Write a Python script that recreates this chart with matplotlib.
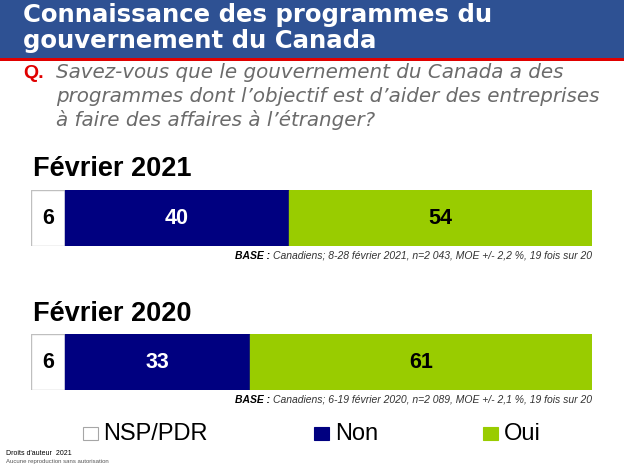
import matplotlib
matplotlib.use("Agg")
import matplotlib.pyplot as plt
from matplotlib.patches import Rectangle

# Data
periods = ["Février 2021", "Février 2020"]
categories = ["NSP/PDR", "Non", "Oui"]
nsp = [6, 6]
non = [40, 33]
oui = [54, 61]
bases = [
    "Canadiens; 8-28 février 2021, n=2 043, MOE +/- 2,2 %, 19 fois sur 20",
    "Canadiens; 6-19 février 2020, n=2 089, MOE +/- 2,1 %, 19 fois sur 20",
]
colors = ["#FFFFFF", "#000080", "#99CC00"]
text_colors = ["#000000", "#FFFFFF", "#000000"]

W, H = 624, 468
fig = plt.figure(figsize=(W / 100, H / 100), dpi=100)
fig.patch.set_facecolor("white")

def fx(x):
    return x / W

def fy(y):
    return 1 - y / H

# Header band
fig.patches.append(Rectangle((0, fy(58)), 1, 58 / H, transform=fig.transFigure,
                             facecolor="#2E5193", edgecolor="none", zorder=0))
fig.patches.append(Rectangle((0, fy(61)), 1, 3 / H, transform=fig.transFigure,
                             facecolor="#E00000", edgecolor="none", zorder=0))

title_font = ["DejaVu Sans"]
fig.text(fx(23), fy(22), "Connaissance des programmes du", color="white",
         fontsize=17.6, fontweight="bold", family=title_font, va="baseline", ha="left")
fig.text(fx(23), fy(48), "gouvernement du Canada", color="white",
         fontsize=17.6, fontweight="bold", family=title_font, va="baseline", ha="left")

fig.text(fx(23), fy(78), "Q.", color="#E00000", fontsize=14, fontweight="bold",
         family=["Liberation Sans"], va="baseline", ha="left")
q_lines = [
    "Savez-vous que le gouvernement du Canada a des",
    "programmes dont l’objectif est d’aider des entreprises",
    "à faire des affaires à l’étranger?",
]
for i, line in enumerate(q_lines):
    fig.text(fx(56), fy(78 + i * 24), line, color="#6B6B6B", fontsize=14.3,
             fontstyle="italic", family=["DejaVu Sans"],
             va="baseline", ha="left")

bar_tops = [190, 334]
bar_h = 56
label_base = [176, 321]
base_y = [256, 400]

narrow = ["Liberation Sans Narrow", "Liberation Sans"]

for i in range(2):
    ax = fig.add_axes([fx(31), fy(bar_tops[i] + bar_h), fx(561), bar_h / H])
    vals = [nsp[i], non[i], oui[i]]
    left = 0
    for v, c, tc in zip(vals, colors, text_colors):
        ax.barh(0, v, left=left, height=1, color=c,
                edgecolor="#BFBFBF" if c == "#FFFFFF" else c, linewidth=1)
        ax.text(left + v / 2, 0, str(v), ha="center", va="center", color=tc,
                fontsize=15.5, fontweight="bold", family=["Liberation Sans"])
        left += v
    ax.set_xlim(0, 100)
    ax.set_ylim(-0.5, 0.5)
    ax.axis("off")
    fig.text(fx(33), fy(label_base[i]), periods[i], fontsize=19.5, fontweight="bold",
             family=["Liberation Sans"], va="baseline", ha="left", color="black")
    fig.text(fx(592), fy(base_y[i]), bases[i], fontsize=7.5, fontstyle="italic",
             family=narrow, ha="right", va="center", color="#333333")

# BASE bold labels placed left of the base text
fig.canvas.draw()
renderer = fig.canvas.get_renderer()
for txt in list(fig.texts):
    if txt.get_text() in bases:
        bb = txt.get_window_extent(renderer)
        x0 = bb.x0 / fig.dpi / fig.get_figwidth()
        fig.text(x0, txt.get_position()[1], "BASE : ", fontsize=7.5, fontstyle="italic",
                 fontweight="bold", family=narrow,
                 ha="right", va="center", color="#000000")

# Legend
sq_x = [83, 314, 483]
txt_x = [103, 335, 504]
for name, c, sx, tx in zip(categories, colors, sq_x, txt_x):
    fig.patches.append(Rectangle((fx(sx), fy(440)), fx(15), 13 / H,
                                 transform=fig.transFigure, facecolor=c,
                                 edgecolor="#A6A6A6" if c == "#FFFFFF" else c, linewidth=0.8))
    fig.text(fx(tx), fy(440), name, fontsize=17, family=["Liberation Sans"],
             va="baseline", ha="left", color="black")

fig.text(fx(6), fy(455), "Droits d'auteur  2021", fontsize=5,
         family=["Liberation Sans"], va="baseline", ha="left", color="#000000")
fig.text(fx(6), fy(463), "Aucune reproduction sans autorisation", fontsize=4.3,
         family=["Liberation Sans"], va="baseline", ha="left", color="#555555")

fig.savefig("out.png", dpi=100)
